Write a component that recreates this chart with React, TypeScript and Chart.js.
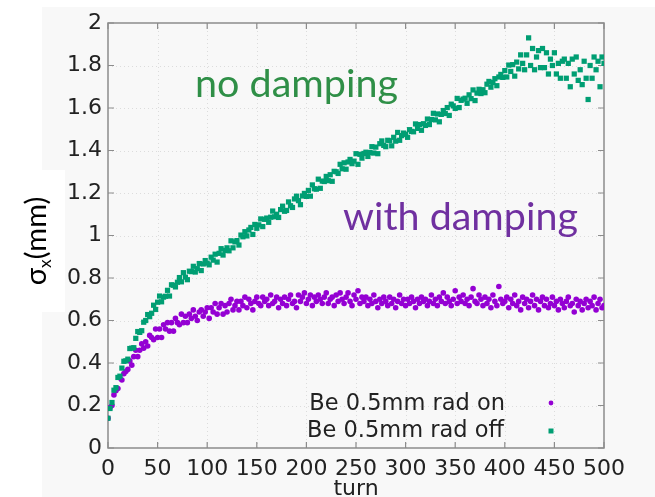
import React, { useEffect, useRef } from "react";
import { Chart, registerables } from "chart.js";

Chart.register(...registerables);

const TURN_STEP = 2;

const RAD_OFF = [
  0.140, 0.186, 0.214, 0.272, 0.284, 0.332, 0.338, 0.376, 0.408, 0.410,
  0.418, 0.468, 0.470, 0.472, 0.516, 0.548, 0.544, 0.552, 0.592, 0.600,
  0.628, 0.618, 0.634, 0.672, 0.652, 0.686, 0.715, 0.688, 0.710, 0.714,
  0.742, 0.715, 0.768, 0.766, 0.758, 0.780, 0.802, 0.782, 0.825, 0.804,
  0.792, 0.832, 0.830, 0.855, 0.828, 0.844, 0.868, 0.835, 0.866, 0.882,
  0.870, 0.862, 0.898, 0.884, 0.912, 0.875, 0.916, 0.938, 0.908, 0.930,
  0.942, 0.928, 0.975, 0.942, 0.970, 0.976, 0.955, 1.002, 0.994, 1.018,
  0.998, 1.026, 1.038, 1.005, 1.052, 1.034, 1.050, 1.078, 1.042, 1.076,
  1.082, 1.062, 1.086, 1.115, 1.088, 1.100, 1.085, 1.122, 1.138, 1.114,
  1.118, 1.158, 1.140, 1.132, 1.172, 1.185, 1.164, 1.145, 1.186, 1.198,
  1.184, 1.212, 1.185, 1.238, 1.220, 1.218, 1.265, 1.222, 1.256, 1.254,
  1.278, 1.258, 1.286, 1.255, 1.302, 1.300, 1.292, 1.335, 1.314, 1.342,
  1.312, 1.346, 1.358, 1.338, 1.350, 1.385, 1.335, 1.382, 1.364, 1.386,
  1.392, 1.372, 1.390, 1.418, 1.388, 1.416, 1.385, 1.432, 1.445, 1.424,
  1.418, 1.448, 1.446, 1.422, 1.462, 1.444, 1.485, 1.448, 1.470, 1.482,
  1.476, 1.462, 1.498, 1.490, 1.488, 1.525, 1.504, 1.522, 1.495, 1.526,
  1.518, 1.548, 1.522, 1.546, 1.575, 1.544, 1.572, 1.535, 1.570, 1.588,
  1.574, 1.602, 1.565, 1.618, 1.610, 1.598, 1.645, 1.602, 1.636, 1.642,
  1.646, 1.622, 1.662, 1.644, 1.685, 1.635, 1.670, 1.688, 1.668, 1.686,
  1.672, 1.712, 1.725, 1.698, 1.720, 1.738, 1.705, 1.746, 1.758, 1.744,
  1.776, 1.746, 1.802, 1.772, 1.804, 1.750, 1.816, 1.784, 1.850, 1.810,
  1.780, 1.850, 1.930, 1.800, 1.880, 1.780, 1.840, 1.870, 1.790, 1.880,
  1.790, 1.860, 1.760, 1.830, 1.800, 1.860, 1.760, 1.810, 1.740, 1.820,
  1.830, 1.740, 1.810, 1.700, 1.830, 1.760, 1.840, 1.730, 1.780, 1.710,
  1.820, 1.740, 1.640, 1.800, 1.740, 1.840, 1.780, 1.820, 1.700, 1.840,
  1.810,
];

const RAD_ON = [
  0.14, 0.19, 0.20, 0.25, 0.27, 0.28, 0.33, 0.32, 0.35, 0.36,
  0.37, 0.41, 0.39, 0.43, 0.46, 0.43, 0.46, 0.49, 0.47, 0.50,
  0.48, 0.53, 0.52, 0.51, 0.56, 0.52, 0.56, 0.52, 0.58, 0.56,
  0.59, 0.55, 0.59, 0.55, 0.61, 0.59, 0.58, 0.63, 0.59, 0.62,
  0.59, 0.63, 0.61, 0.65, 0.62, 0.60, 0.64, 0.65, 0.62, 0.64,
  0.66, 0.61, 0.66, 0.64, 0.68, 0.63, 0.66, 0.68, 0.63, 0.67,
  0.64, 0.68, 0.70, 0.65, 0.67, 0.69, 0.65, 0.69, 0.67, 0.71,
  0.66, 0.70, 0.68, 0.65, 0.69, 0.71, 0.68, 0.67, 0.71, 0.69,
  0.70, 0.67, 0.72, 0.68, 0.69, 0.71, 0.66, 0.70, 0.68, 0.71,
  0.67, 0.70, 0.72, 0.68, 0.69, 0.66, 0.72, 0.69, 0.71, 0.73,
  0.68, 0.70, 0.72, 0.67, 0.71, 0.69, 0.72, 0.70, 0.68, 0.71,
  0.73, 0.68, 0.70, 0.71, 0.67, 0.72, 0.69, 0.73, 0.70, 0.68,
  0.71, 0.73, 0.69, 0.67, 0.72, 0.70, 0.74, 0.68, 0.71, 0.69,
  0.71, 0.67, 0.70, 0.68, 0.72, 0.69, 0.66, 0.70, 0.68, 0.71,
  0.69, 0.67, 0.71, 0.68, 0.70, 0.66, 0.69, 0.72, 0.68, 0.70,
  0.67, 0.70, 0.68, 0.71, 0.69, 0.66, 0.70, 0.68, 0.71, 0.69,
  0.70, 0.67, 0.69, 0.72, 0.68, 0.70, 0.67, 0.71, 0.69, 0.73,
  0.68, 0.71, 0.69, 0.67, 0.70, 0.74, 0.68, 0.71, 0.69, 0.72,
  0.68, 0.70, 0.67, 0.71, 0.75, 0.69, 0.68, 0.72, 0.70, 0.67,
  0.71, 0.68, 0.70, 0.66, 0.72, 0.69, 0.67, 0.76, 0.70, 0.68,
  0.69, 0.71, 0.66, 0.70, 0.68, 0.72, 0.67, 0.69, 0.65, 0.71,
  0.68, 0.70, 0.66, 0.69, 0.72, 0.67, 0.70, 0.65, 0.69, 0.71,
  0.67, 0.70, 0.66, 0.68, 0.71, 0.67, 0.69, 0.65, 0.70, 0.68,
  0.66, 0.69, 0.71, 0.67, 0.68, 0.64, 0.70, 0.67, 0.69, 0.65,
  0.68, 0.70, 0.66, 0.69, 0.67, 0.71, 0.65, 0.68, 0.70, 0.66,
  0.67,
];

const X_TICKS = [0, 50, 100, 150, 200, 250, 300, 350, 400, 450, 500];
const Y_TICKS = [0, 0.2, 0.4, 0.6, 0.8, 1, 1.2, 1.4, 1.6, 1.8, 2];
const SERIES_NAMES = ["Be 0.5mm rad on", "Be 0.5mm rad off"];
const X_TITLE = "turn";
const Y_TITLE_MAIN = "σ";
const Y_TITLE_SUB = "x";
const Y_TITLE_UNIT = "(mm)";
const NOTE_OFF = "no damping";
const NOTE_ON = "with damping";

const COLOR_ON = "#9400d3";
const COLOR_OFF = "#009e73";
const NOTE_OFF_COLOR = "#2f8f47";
const NOTE_ON_COLOR = "#7030a0";
const TEXT_COLOR = "#222222";
const TICK_FONT = "DejaVu Sans";
const NOTE_FONT = "Lato, 'Open Sans', sans-serif";

function toPoints(vals: number[]) {
  return vals.map((v, i) => ({ x: i * TURN_STEP, y: v }));
}

function fitFont(ctx: CanvasRenderingContext2D, text: string, family: string, width: number) {
  ctx.font = `100px ${family}`;
  const w = ctx.measureText(text).width;
  return (100 * width) / w;
}

const decorPlugin = {
  id: "decor",
  beforeDraw(chart: any) {
    const { ctx, width, height } = chart;
    ctx.save();
    ctx.fillStyle = "#ffffff";
    ctx.fillRect(0, 0, width, height);
    ctx.fillStyle = "#f8f8f8";
    ctx.fillRect(42, 7, width - 42, height - 7);
    ctx.fillStyle = "#ffffff";
    ctx.fillRect(0, 170, 65, 142);
    ctx.restore();
  },
  beforeDatasetsDraw(chart: any) {
    const { ctx, chartArea: a, scales } = chart;
    const xs = scales.x;
    const ys = scales.y;
    ctx.save();
    ctx.strokeStyle = "#dcdcdc";
    ctx.lineWidth = 1;
    ctx.setLineDash([1, 3]);
    X_TICKS.slice(1, -1).forEach((t) => {
      const px = Math.round(xs.getPixelForValue(t)) + 0.5;
      ctx.beginPath();
      ctx.moveTo(px, a.top);
      ctx.lineTo(px, a.bottom);
      ctx.stroke();
    });
    Y_TICKS.slice(1, -1).forEach((t) => {
      const py = Math.round(ys.getPixelForValue(t)) + 0.5;
      ctx.beginPath();
      ctx.moveTo(a.left, py);
      ctx.lineTo(a.right, py);
      ctx.stroke();
    });
    ctx.setLineDash([]);
    ctx.strokeStyle = "#8c8c8c";
    ctx.lineWidth = 1.5;
    ctx.strokeRect(a.left, a.top, a.right - a.left, a.bottom - a.top);
    const L = 6;
    ctx.lineWidth = 1.2;
    X_TICKS.forEach((t) => {
      const px = xs.getPixelForValue(t);
      ctx.beginPath();
      ctx.moveTo(px, a.bottom);
      ctx.lineTo(px, a.bottom - L);
      ctx.moveTo(px, a.top);
      ctx.lineTo(px, a.top + L);
      ctx.stroke();
    });
    Y_TICKS.forEach((t) => {
      const py = ys.getPixelForValue(t);
      ctx.beginPath();
      ctx.moveTo(a.left, py);
      ctx.lineTo(a.left + L, py);
      ctx.moveTo(a.right, py);
      ctx.lineTo(a.right - L, py);
      ctx.stroke();
    });
    ctx.restore();
  },
  afterDraw(chart: any) {
    const { ctx, chartArea: a } = chart;
    ctx.save();
    ctx.fillStyle = TEXT_COLOR;
    ctx.font = `22px ${TICK_FONT}`;
    ctx.textAlign = "center";
    ctx.textBaseline = "middle";
    ctx.fillText(X_TITLE, (a.left + a.right) / 2, 489);

    ctx.font = `22.5px ${TICK_FONT}`;
    ctx.textAlign = "right";
    ctx.fillText(SERIES_NAMES[0], 505, 404);
    ctx.fillText(SERIES_NAMES[1], 504, 431);
    ctx.fillStyle = COLOR_ON;
    ctx.beginPath();
    ctx.arc(551, 403, 2.4, 0, Math.PI * 2);
    ctx.fill();
    ctx.fillStyle = COLOR_OFF;
    ctx.fillRect(548.5, 428.5, 5, 5);

    ctx.textAlign = "left";
    ctx.textBaseline = "alphabetic";
    let s = fitFont(ctx, NOTE_OFF, NOTE_FONT, 203);
    ctx.font = `${s}px ${NOTE_FONT}`;
    ctx.fillStyle = NOTE_OFF_COLOR;
    ctx.fillText(NOTE_OFF, 195, 97);
    s = fitFont(ctx, NOTE_ON, NOTE_FONT, 235);
    ctx.font = `${s}px ${NOTE_FONT}`;
    ctx.fillStyle = NOTE_ON_COLOR;
    ctx.fillText(NOTE_ON, 343, 230);

    const S = 29;
    ctx.font = `${S}px ${NOTE_FONT}`;
    const w1 = ctx.measureText(Y_TITLE_MAIN).width;
    const w3 = ctx.measureText(Y_TITLE_UNIT).width;
    ctx.font = `${S * 0.6}px ${NOTE_FONT}`;
    const w2 = ctx.measureText(Y_TITLE_SUB).width;
    const total = w1 + w2 + w3;
    ctx.translate(46, 241);
    ctx.rotate(-Math.PI / 2);
    ctx.fillStyle = "#000000";
    let x0 = -total / 2;
    ctx.font = `${S}px ${NOTE_FONT}`;
    ctx.fillText(Y_TITLE_MAIN, x0, 0);
    x0 += w1;
    ctx.font = `${S * 0.6}px ${NOTE_FONT}`;
    ctx.fillText(Y_TITLE_SUB, x0, S * 0.18);
    x0 += w2;
    ctx.font = `${S}px ${NOTE_FONT}`;
    ctx.fillText(Y_TITLE_UNIT, x0, 0);
    ctx.restore();
  },
};

export default function App() {
  const ref = useRef<HTMLCanvasElement | null>(null);
  useEffect(() => {
    if (!ref.current) return;
    const chart = new Chart(ref.current, {
      type: "scatter",
      data: {
        datasets: [
          {
            label: SERIES_NAMES[1],
            data: toPoints(RAD_OFF),
            pointStyle: "rect",
            pointRadius: 3.7,
            pointBorderWidth: 0,
            backgroundColor: COLOR_OFF,
            borderColor: COLOR_OFF,
          },
          {
            label: SERIES_NAMES[0],
            data: toPoints(RAD_ON),
            pointStyle: "circle",
            pointRadius: 2.8,
            pointBorderWidth: 0,
            backgroundColor: COLOR_ON,
            borderColor: COLOR_ON,
          },
        ],
      },
      options: {
        responsive: false,
        animation: false,
        events: [],
        layout: { padding: { top: 23, right: 51, left: 0, bottom: 0 } },
        plugins: {
          legend: { display: false },
          tooltip: { enabled: false },
        },
        scales: {
          x: {
            type: "linear",
            min: 0,
            max: 500,
            afterFit: (s: any) => {
              s.height = 49;
            },
            afterBuildTicks: (s: any) => {
              s.ticks = X_TICKS.map((v) => ({ value: v }));
            },
            ticks: {
              color: TEXT_COLOR,
              font: { family: TICK_FONT, size: 22 },
              padding: 8,
              maxRotation: 0,
              autoSkip: false,
              callback: (v: any) => String(v),
            },
            grid: { display: false, drawTicks: false },
            border: { display: false },
          },
          y: {
            type: "linear",
            min: 0,
            max: 2,
            afterFit: (s: any) => {
              s.width = 108;
            },
            afterBuildTicks: (s: any) => {
              s.ticks = Y_TICKS.map((v) => ({ value: v }));
            },
            ticks: {
              color: TEXT_COLOR,
              font: { family: TICK_FONT, size: 22 },
              padding: 6,
              autoSkip: false,
              callback: (v: any) => String(Math.round(Number(v) * 10) / 10),
            },
            grid: { display: false, drawTicks: false },
            border: { display: false },
          },
        },
      },
      plugins: [decorPlugin],
    } as any);
    return () => chart.destroy();
  }, []);

  return (
    <div style={{ position: "absolute", left: 0, top: 0, width: 655, height: 497 }}>
      <canvas ref={ref} width={655} height={497} style={{ display: "block" }} />
    </div>
  );
}
